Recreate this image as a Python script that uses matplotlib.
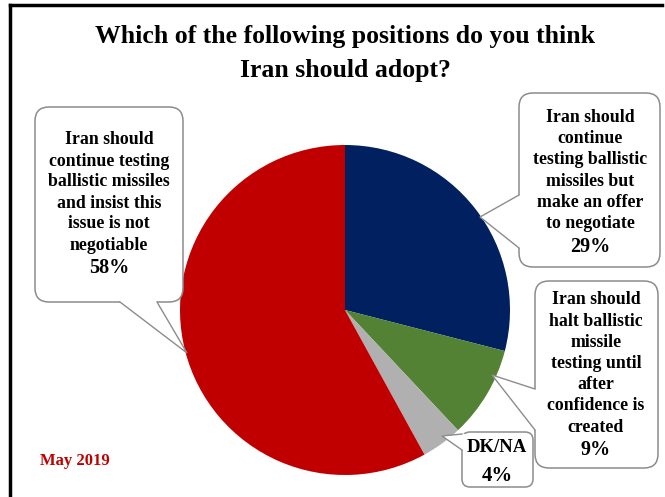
import matplotlib
matplotlib.use("Agg")
import matplotlib.pyplot as plt
from matplotlib.patches import FancyBboxPatch, Polygon

W, H = 665, 497

# data
labels = ["Iran should\ncontinue\ntesting ballistic\nmissiles but\nmake an offer\nto negotiate",
          "Iran should\nhalt ballistic\nmissile\ntesting until\nafter\nconfidence is\ncreated",
          "DK/NA",
          "Iran should\ncontinue testing\nballistic missiles\nand insist this\nissue is not\nnegotiable"]
values = [29, 9, 4, 58]
colors = ["#002060", "#548235", "#B0B0B0", "#C00000"]
title = "Which of the following positions do you think\nIran should adopt?"
date_label = "May 2019"

SERIF = "Liberation Serif"
EDGE = "#8C8C8C"


def py(y):
    # pixel row -> data y
    return H - y


fig = plt.figure(figsize=(W / 100, H / 100), dpi=100)
ax = fig.add_axes([0, 0, 1, 1])

ax.pie(values, colors=colors, startangle=90, counterclock=False,
       center=(345, py(310)), radius=165,
       wedgeprops=dict(linewidth=0))
ax.set_xlim(0, W)
ax.set_ylim(0, H)
ax.set_aspect("auto")
ax.axis("off")

# frame (top and left)
ax.plot([10, 10], [py(5), py(497)], color="black", lw=2.5, zorder=10)
ax.plot([10, 662], [py(5), py(5)], color="black", lw=2.5, zorder=10)

# title
for i, line in enumerate(title.split("\n")):
    ax.text(345, py(37 + i * 33), line, ha="center", va="center",
            fontsize=18.5, fontweight="bold", family=SERIF, zorder=6)


def bubble(x0, y0, x1, y1, base1, base2, tip, inward, rnd=14):
    box = FancyBboxPatch((x0, py(y1)), x1 - x0, y1 - y0,
                         boxstyle=f"round,pad=0,rounding_size={rnd}",
                         facecolor="white", edgecolor=EDGE, lw=1.1, zorder=3)
    ax.add_patch(box)
    dx, dy = inward
    b1 = (base1[0], py(base1[1]))
    b2 = (base2[0], py(base2[1]))
    t = (tip[0], py(tip[1]))
    cover = Polygon([b1, t, b2, (b2[0] + dx, b2[1] - dy), (b1[0] + dx, b1[1] - dy)],
                    closed=True, facecolor="white", edgecolor="none", zorder=4)
    ax.add_patch(cover)
    ax.plot([b1[0], t[0], b2[0]], [b1[1], t[1], b2[1]], color=EDGE, lw=1.0,
            zorder=5, solid_joinstyle="miter")


def block(cx, y_first, dy, text, pct, y_pct, fs=12.8, fs_pct=14.5):
    for i, line in enumerate(text.split("\n")):
        ax.text(cx, py(y_first + i * dy), line, ha="center", va="center",
                fontsize=fs, fontweight="bold", family=SERIF, zorder=6)
    ax.text(cx, py(y_pct), f"{pct}%", ha="center", va="center",
            fontsize=fs_pct, fontweight="bold", family=SERIF, zorder=6)


# top-right bubble (29%)
bubble(519, 93, 660, 267, (519, 195), (519, 248), (480, 217), (3, 0))
block(590, 117, 21.4, labels[0], values[0], 247)

# middle-right bubble (9%)
bubble(535, 281, 658, 468, (535, 389), (535, 430), (492, 375), (3, 0))
block(596, 300, 21.2, labels[1], values[1], 450)

# DK/NA bubble
bubble(462, 432, 533, 487, (462, 434), (462, 450), (442, 436), (3, 0), rnd=8)
block(497, 448, 0, labels[2], values[2], 476, fs=13.5, fs_pct=15)

# left bubble (58%)
bubble(35, 107, 183, 302, (120, 302), (157, 302), (187, 353), (0, -3))
block(109, 140, 21.0, labels[3], values[3], 268)

ax.text(40, py(461), date_label, ha="left", va="center", fontsize=12,
        fontweight="bold", family=SERIF, color="#C00000", zorder=6)

fig.savefig("out.png", dpi=100)
